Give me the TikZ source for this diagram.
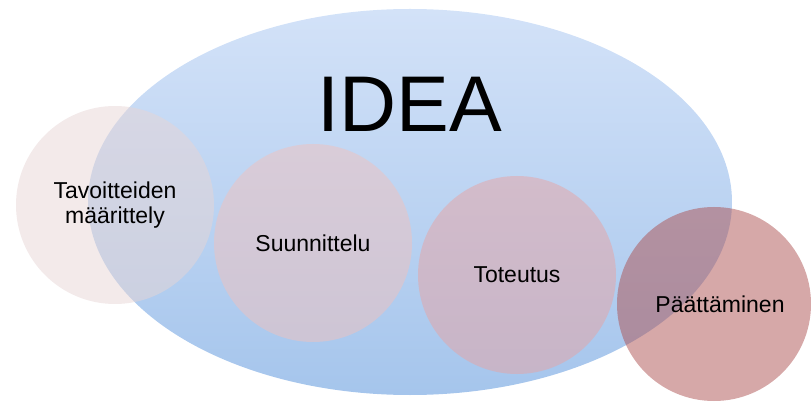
\documentclass[tikz,border=0pt]{standalone}
\usepackage{fontspec}
\setmainfont{Liberation Sans}
\usepackage{tikz}
\usepackage{xcolor}
\usetikzlibrary{shapes.geometric}

\definecolor{ideatop}{RGB}{211,226,248}
\definecolor{ideabottom}{RGB}{165,197,236}
\definecolor{phaseA}{RGB}{231,213,213}
\definecolor{phaseB}{RGB}{240,194,190}
\definecolor{phaseC}{RGB}{231,164,164}
\definecolor{phaseD}{RGB}{173,81,81}

\begin{document}
\begin{tikzpicture}[x=1pt, y=-1pt,
    phase/.style={circle, minimum size=198pt, inner sep=0pt, fill opacity=0.5,
      text opacity=1, align=center, font=\fontsize{23}{25}\selectfont}]
  \useasboundingbox (0,0) rectangle (811,403);

  \node[ellipse, minimum width=644pt, minimum height=386pt, inner sep=0pt,
        top color=ideatop, bottom color=ideabottom] (idea) at (410,202) {};
  \node[font=\fontsize{79}{79}\selectfont] (title) at (410,104) {IDEA};

  \node[phase, fill=phaseA] (P1) at (115,205) {Tavoitteiden\\määrittely};
  \node[phase, fill=phaseB] (P2) at (313,243) {Suunnittelu};
  \node[phase, fill=phaseC] (P3) at (517,275) {Toteutus};
  \node[phase, fill=phaseD, minimum size=194pt] (P4) at (714,304) {};
  \node[font=\fontsize{23}{25}\selectfont] (P4text) at (720,304) {Päättäminen};
\end{tikzpicture}
\end{document}
